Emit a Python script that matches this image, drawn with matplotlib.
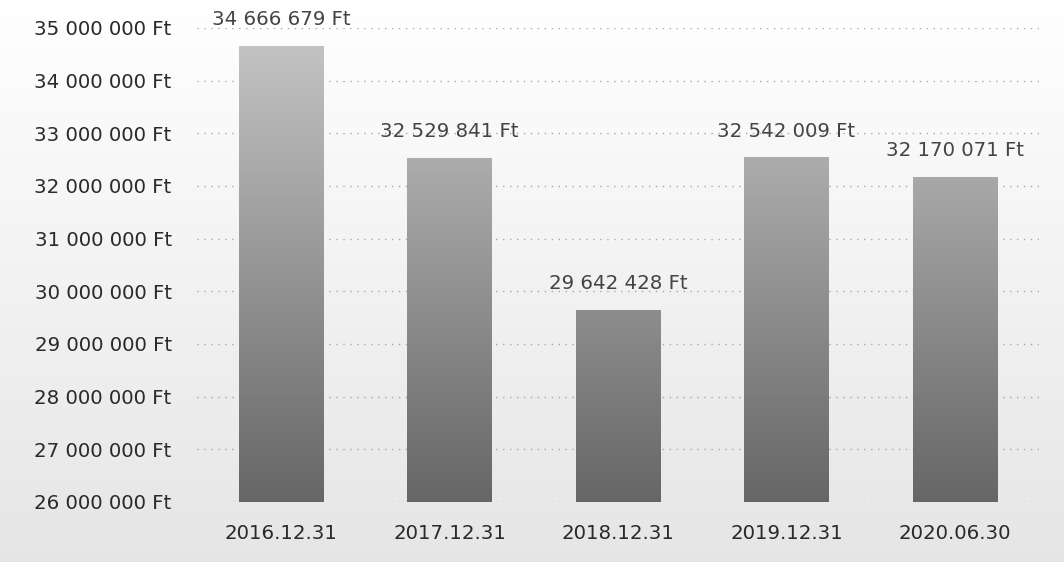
import numpy as np
import matplotlib
matplotlib.use("Agg")
from matplotlib import pyplot as plt
from matplotlib.ticker import FuncFormatter

dates = ["2016.12.31", "2017.12.31", "2018.12.31", "2019.12.31", "2020.06.30"]
values = [34666679, 32529841, 29642428, 32542009, 32170071]
y_ticks = [26000000, 27000000, 28000000, 29000000, 30000000,
           31000000, 32000000, 33000000, 34000000, 35000000]


def ft(v, pos=None):
    return "{:,}".format(int(v)).replace(",", " ") + " Ft"


def grey_ramp(top, bottom, n=256):
    # n x 1 x 3 image, row 0 is the top
    g = np.linspace(top, bottom, n)[:, None, None]
    return np.repeat(g, 3, axis=2)


plt.rcParams['font.family'] = ['DejaVu Sans']
fig = plt.figure(figsize=(10.64, 5.62), dpi=100)
fig.patch.set_facecolor("white")

# faint scanned-paper tone behind everything (lower part slightly greyer)
bg = fig.add_axes([0, 0, 1, 1], zorder=-5)
bg.imshow(grey_ramp(1.0, 0.9), extent=[0, 1, 0, 1], aspect="auto")
bg.set_xlim(0, 1)
bg.set_ylim(0, 1)
bg.set_axis_off()

ax = fig.add_axes([0.1849, 0.1068, 0.7918, 0.8434])
ax.patch.set_alpha(0)
ymin, ymax = y_ticks[0], y_ticks[-1]

x = np.arange(len(dates))
bars = ax.bar(x, [v - ymin for v in values], bottom=ymin, width=0.5,
              color="none", edgecolor="none", zorder=2)

# grey gradient fill for each bar, darker towards the base
for b in bars:
    x0 = b.get_x()
    x1 = x0 + b.get_width()
    im = ax.imshow(grey_ramp(0.78, 0.40), extent=[x0, x1, ymin, ymax],
                   aspect="auto", zorder=2)
    im.set_clip_path(b)
ax.set_xlim(-0.5, len(dates) - 0.5)
ax.set_ylim(ymin, ymax)

for xi, v in zip(x, values):
    ax.annotate(ft(v), (xi, v), xytext=(0, 19), textcoords="offset points",
                ha="center", va="center", fontsize=14.2, color="#444444",
                annotation_clip=False)

ax.set_yticks(y_ticks)
ax.yaxis.set_major_formatter(FuncFormatter(ft))
ax.set_xticks(x)
ax.set_xticklabels(dates)
ax.tick_params(axis="y", length=0, pad=18, labelsize=14.2, labelcolor="#2a2a2a")
ax.tick_params(axis="x", length=0, pad=16, labelsize=14.2, labelcolor="#2a2a2a")
ax.grid(axis="y", color="#a8a8a8", linestyle=(0, (1, 4)), linewidth=1.0, zorder=0)
ax.set_axisbelow(True)
for s in ax.spines.values():
    s.set_visible(False)

fig.savefig("out.png", dpi=100)
